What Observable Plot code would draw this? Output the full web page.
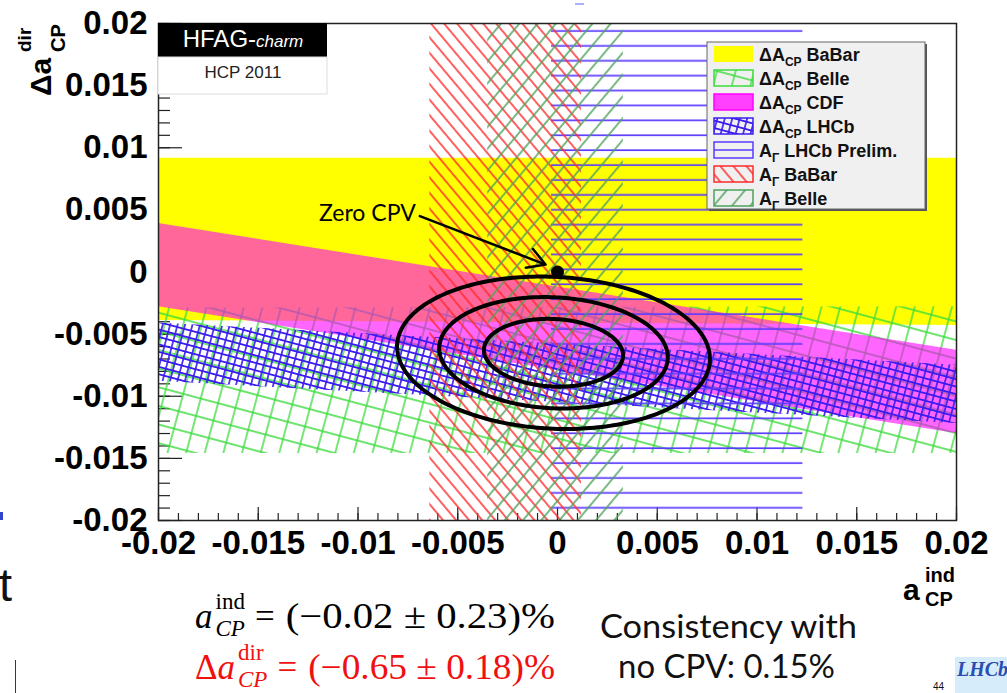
<!DOCTYPE html>
<html><head><meta charset="utf-8">
<script src="https://cdn.jsdelivr.net/npm/d3@7"></script>
<script src="https://cdn.jsdelivr.net/npm/@observablehq/plot@0.6"></script>
<style>
html,body{margin:0;padding:0;background:#fff;}
#wrap{position:relative;width:1007px;height:693px;overflow:hidden;}
#chart{position:absolute;left:0;top:0;}
#over{position:absolute;left:0;top:0;white-space:pre;}
</style></head>
<body>
<div id="wrap">
<svg width="0" height="0" style="position:absolute"><defs>
  <pattern id="pBelleD" patternUnits="userSpaceOnUse" width="18" height="18" patternTransform="rotate(15)"><path d="M0,9H18M9,0V18" stroke="#3ddc3d" stroke-width="1.4" fill="none"/></pattern>
  <pattern id="pLHCbD" patternUnits="userSpaceOnUse" width="7.2" height="7.2" patternTransform="rotate(15)"><path d="M0,3.6H7.2M3.6,0V7.2" stroke="#3a1cf0" stroke-width="1.6" fill="none"/></pattern>
  <pattern id="pLHCbAG" patternUnits="userSpaceOnUse" width="20" height="14.9"><path d="M0,1.2H20" stroke="#5a3cff" stroke-width="1.7" fill="none"/></pattern>
  <pattern id="pBaBarAG" patternUnits="userSpaceOnUse" width="10" height="10" patternTransform="rotate(-40)"><path d="M5,0V10" stroke="#ff2a2a" stroke-width="1.5"/></pattern>
  <pattern id="pBelleAG" patternUnits="userSpaceOnUse" width="14" height="14" patternTransform="rotate(40)"><path d="M7,0V14" stroke="#4ea25c" stroke-width="1.5"/></pattern>
</defs></svg>
<div id="chart"></div>
<svg id="over" width="1007" height="693"></svg>
</div>
<script>
// ---------- data ----------
const xTicks = [-0.02, -0.015, -0.01, -0.005, 0, 0.005, 0.01, 0.015, 0.02];
const xTickLabels = ["-0.02", "-0.015", "-0.01", "-0.005", "0", "0.005", "0.01", "0.015", "0.02"];
const yTicks = [-0.02, -0.015, -0.01, -0.005, 0, 0.005, 0.01, 0.015, 0.02];
const yTickLabels = ["-0.02", "-0.015", "-0.01", "-0.005", "0", "0.005", "0.01", "0.015", "0.02"];

// ΔA_CP bands: edges at x = -0.02 and x = 0.02
const dacpExps = ["BaBar", "Belle", "CDF", "LHCb"];
const dacpEdgeX = [-0.02, 0.02];
const dacpUpper = [[0.00915, 0.00915], [-0.0029, -0.0028], [0.0039, -0.0063], [-0.0041, -0.0075]];
const dacpLower = [[-0.0039, -0.0043], [-0.0146, -0.0146], [-0.0028, -0.0130], [-0.0088, -0.0122]];

// A_Γ bands (vertical, in a_CP^ind)
const agExps = ["LHCb Prelim.", "BaBar", "Belle"];
const agLow = [-0.0003, -0.0064, -0.0035];
const agHigh = [0.0123, 0.0012, 0.0033];

// HFAG combination
const fitCenter = [-0.0002, -0.0065];
const fitSigma = [0.0023, 0.0018];
const fitRho = -0.08;
const fitCL = [0.683, 0.955, 0.997];

const zeroCPV = [{x: 0, y: 0}];
const zeroLabel = [{x: -0.0071, y: 0.0047, text: "Zero CPV"}];
const zeroArrow = [{x1: -0.0069, y1: 0.0045, x2: -0.0006, y2: 0.0006}];

const legendLabels = [
  ["ΔA", "CP", " BaBar"], ["ΔA", "CP", " Belle"], ["ΔA", "CP", " CDF"], ["ΔA", "CP", " LHCb"],
  ["A", "Γ", " LHCb Prelim."], ["A", "Γ", " BaBar"], ["A", "Γ", " Belle"]
];

// ---------- styles ----------
const dacpFill = ["#ffff00", "url(#pBelleD)", "#ff00ff", "url(#pLHCbD)"];
const dacpOpacity = [1, 1, 0.6, 1];
const agFill = ["url(#pLHCbAG)", "url(#pBaBarAG)", "url(#pBelleAG)"];

const W = 1007, H = 693, mL = 158, mR = 51, mT = 23, mB = 173;
const frameW = W - mL - mR, frameH = H - mT - mB;

const bandRows = dacpExps.map((e, i) => dacpEdgeX.map((x, j) => ({exp: e, x, lo: dacpLower[i][j], hi: dacpUpper[i][j]})));
const agRows = agExps.map((e, i) => ({exp: e, x1: agLow[i], x2: agHigh[i]}));
const ellipse = fitCL.flatMap(p => {
  const k = Math.sqrt(-2 * Math.log(1 - p));
  return d3.range(0, 241).map(i => {
    const t = 2 * Math.PI * i / 240;
    return {p, x: fitCenter[0] + k * fitSigma[0] * Math.cos(t),
      y: fitCenter[1] + k * fitSigma[1] * (fitRho * Math.cos(t) + Math.sqrt(1 - fitRho * fitRho) * Math.sin(t))};
  });
});
const xMinor = d3.ticks(-0.02, 0.02, 40);
const yMinor = d3.ticks(-0.02, 0.02, 40);

const chart = Plot.plot({
  width: W, height: H, marginLeft: mL, marginRight: mR, marginTop: mT, marginBottom: mB,
  x: {domain: [-0.02, 0.02], axis: null},
  y: {domain: [-0.02, 0.02], axis: null},
  style: {background: "transparent", fontFamily: "Liberation Sans", overflow: "visible"},
  marks: [
    Plot.ruleX(xMinor, {x: d => d, insetTop: frameH - 7, stroke: "#222", strokeWidth: 1.2}),
    Plot.ruleX(xTicks, {x: d => d, insetTop: frameH - 13, stroke: "#222", strokeWidth: 1.2}),
    Plot.ruleY(yMinor, {y: d => d, insetRight: frameW - 12, stroke: "#222", strokeWidth: 1.2}),
    Plot.ruleY(yTicks, {y: d => d, insetRight: frameW - 24, stroke: "#222", strokeWidth: 1.2}),
    ...bandRows.map((rows, i) => Plot.areaY(rows, {x: "x", y1: "lo", y2: "hi", fill: dacpFill[i], fillOpacity: dacpOpacity[i]})),
    ...agRows.map((r, i) => Plot.rect([r], {x1: "x1", x2: "x2", y1: -0.02, y2: 0.02, fill: agFill[i]})),
    Plot.line(ellipse, {x: "x", y: "y", z: "p", stroke: "black", strokeWidth: 4}),
    Plot.dot(zeroCPV, {x: "x", y: "y", r: 6.5, fill: "black"}),
    Plot.arrow(zeroArrow, {x1: "x1", y1: "y1", x2: "x2", y2: "y2", stroke: "black", strokeWidth: 2.5, headLength: 12}),
    Plot.text(zeroLabel, {x: "x", y: "y", text: "text", textAnchor: "end", fontFamily: "Lato", fontSize: 23, fill: "black"}),
    Plot.frame({stroke: "#222", strokeWidth: 1.5}),
    Plot.axisX(xTicks, {anchor: "bottom", tickSize: 0, tickPadding: 10, tickFormat: d => xTickLabels[xTicks.indexOf(d)],
      fontSize: 33, fontWeight: "bold", fontFamily: "Liberation Sans", fill: "black", label: null}),
    Plot.axisY(yTicks, {anchor: "left", tickSize: 0, tickPadding: 11, tickFormat: d => yTickLabels[yTicks.indexOf(d)],
      fontSize: 33, fontWeight: "bold", fontFamily: "Liberation Sans", fill: "black", label: null})
  ]
});
document.getElementById("chart").appendChild(chart);

// ---------- overlays ----------
const over = d3.select("#over");
function runLine(g, x, y, parts, base) {
  let cx = x, lastStart = x;
  for (const p of parts) {
    const sx = p.stack ? lastStart : cx + (p.gap || 0);
    const t = g.append("text").attr("x", sx).attr("y", y + (p.dy || 0)).text(p.t)
      .attr("font-family", p.family || base.family).attr("font-size", p.size || base.size)
      .attr("font-style", p.italic ? "italic" : "normal").attr("font-weight", p.bold ? "bold" : (base.weight || "normal"))
      .attr("fill", base.fill);
    if (p.fitTo) t.attr("textLength", p.fitTo - sx).attr("lengthAdjust", "spacingAndGlyphs");
    const w = t.node().getComputedTextLength();
    if (p.stack) cx = Math.max(cx, sx + w); else { lastStart = sx; cx = sx + w; }
  }
  return cx;
}

// HFAG box
over.append("rect").attr("x", 158).attr("y", 23).attr("width", 169).attr("height", 34).attr("fill", "#000");
over.append("rect").attr("x", 158).attr("y", 57).attr("width", 169).attr("height", 37).attr("fill", "#fff").attr("stroke", "#ddd").attr("stroke-width", 1);
{
  const t = over.append("text").attr("x", 243).attr("y", 47).attr("text-anchor", "middle").attr("fill", "#fff")
    .attr("font-family", "Liberation Sans").attr("font-size", 24);
  t.append("tspan").text("HFAG-");
  t.append("tspan").attr("font-style", "italic").attr("font-size", 17).text("charm");
  over.append("text").attr("x", 243).attr("y", 78).attr("text-anchor", "middle").attr("fill", "#222")
    .attr("font-family", "Liberation Sans").attr("font-size", 17).text("HCP 2011");
}

// legend
over.append("rect").attr("x", 709).attr("y", 44).attr("width", 218).attr("height", 167).attr("fill", "#555");
over.append("rect").attr("x", 707).attr("y", 42).attr("width", 218).attr("height", 167).attr("fill", "#f0f0f0").attr("stroke", "#666").attr("stroke-width", 1);
const swFill = ["#ffff00", "url(#pBelleD)", "#ff40ff", "url(#pLHCbD)", "none", "url(#pBaBarAG)", "url(#pBelleAG)"];
const swStroke = ["none", "#3ddc3d", "#ff00ff", "#3a1cf0", "#5a3cff", "#ff2a2a", "#4ea25c"];
legendLabels.forEach((lab, i) => {
  const cy = 54 + 24 * i;
  over.append("rect").attr("x", 714).attr("y", cy - 8).attr("width", 39).attr("height", 16)
    .attr("fill", swFill[i]).attr("stroke", swStroke[i]).attr("stroke-width", 1.5);
  if (i === 4) over.append("line").attr("x1", 714).attr("x2", 753).attr("y1", cy).attr("y2", cy).attr("stroke", swStroke[i]).attr("stroke-width", 1.5);
  const t = over.append("text").attr("x", 759).attr("y", cy + 6.5).attr("font-family", "Liberation Sans")
    .attr("font-weight", "bold").attr("font-size", 18).attr("fill", "#111");
  t.append("tspan").text(lab[0]);
  t.append("tspan").attr("font-size", 12).attr("dy", 5).text(lab[1]);
  t.append("tspan").attr("dy", -5).text(lab[2]);
});

// y axis title (rotated)
{
  const g = over.append("g").attr("transform", "translate(18,97) rotate(-90)")
    .attr("font-family", "Liberation Sans").attr("font-weight", "bold").attr("fill", "#000");
  g.append("text").attr("x", 1).attr("y", 33).attr("font-size", 30).text("Δa");
  g.append("text").attr("x", 45).attr("y", 13).attr("font-size", 19).text("dir");
  g.append("text").attr("x", 45).attr("y", 47).attr("font-size", 20).text("CP");
}
// x axis title
{
  const g = over.append("g").attr("font-family", "Liberation Sans").attr("font-weight", "bold").attr("fill", "#000");
  g.append("text").attr("x", 903).attr("y", 600).attr("font-size", 30).text("a");
  g.append("text").attr("x", 925).attr("y", 582).attr("font-size", 20).text("ind");
  g.append("text").attr("x", 925).attr("y", 606).attr("font-size", 20).text("CP");
}

// formulas
runLine(over, 195, 628, [
  {t: "a", italic: true},
  {t: "ind", size: 23, dy: -19, gap: 3},
  {t: "CP", size: 23, dy: 8, italic: true, stack: true},
  {t: "=", gap: 10},
  {t: "(−0.02 ± 0.23)%", gap: 11, fitTo: 555}
], {family: "Liberation Serif", size: 35, fill: "#000"});
runLine(over, 195, 679, [
  {t: "Δ"},
  {t: "a", italic: true},
  {t: "dir", size: 23, dy: -19, gap: 3},
  {t: "CP", size: 23, dy: 8, italic: true, stack: true},
  {t: "=", gap: 10},
  {t: "(−0.65 ± 0.18)%", gap: 11, fitTo: 555}
], {family: "Liberation Serif", size: 35, fill: "#f01010"});

over.append("text").attr("x", 600).attr("y", 638).attr("font-family", "Lato").attr("font-size", 32).attr("fill", "#111")
  .attr("textLength", 257).attr("lengthAdjust", "spacingAndGlyphs").text("Consistency with");
over.append("text").attr("x", 618).attr("y", 678).attr("font-family", "Lato").attr("font-size", 32).attr("fill", "#111")
  .attr("textLength", 217).attr("lengthAdjust", "spacingAndGlyphs").text("no CPV: 0.15%");

// slide remnants
over.append("text").attr("x", -1).attr("y", 601).attr("font-family", "Liberation Sans").attr("font-size", 47).attr("fill", "#111").text("t");
over.append("text").attr("x", 933).attr("y", 690).attr("font-family", "Liberation Sans").attr("font-size", 10).attr("fill", "#111").text("44");
over.append("rect").attr("x", 955).attr("y", 657).attr("width", 52).attr("height", 36).attr("fill", "#d6ecfb");
over.append("text").attr("x", 957).attr("y", 676).attr("font-family", "Liberation Serif").attr("font-style", "italic").attr("font-weight", "bold")
  .attr("font-size", 20).attr("fill", "#2a4db0").text("LHCb");
over.append("rect").attr("x", 575).attr("y", 3).attr("width", 9).attr("height", 2).attr("fill", "#aab0ff");
over.append("rect").attr("x", 0).attr("y", 512).attr("width", 3).attr("height", 8).attr("fill", "#3344cc");
over.append("rect").attr("x", 15).attr("y", 660).attr("width", 1).attr("height", 33).attr("fill", "#223388");
</script>
</body></html>
